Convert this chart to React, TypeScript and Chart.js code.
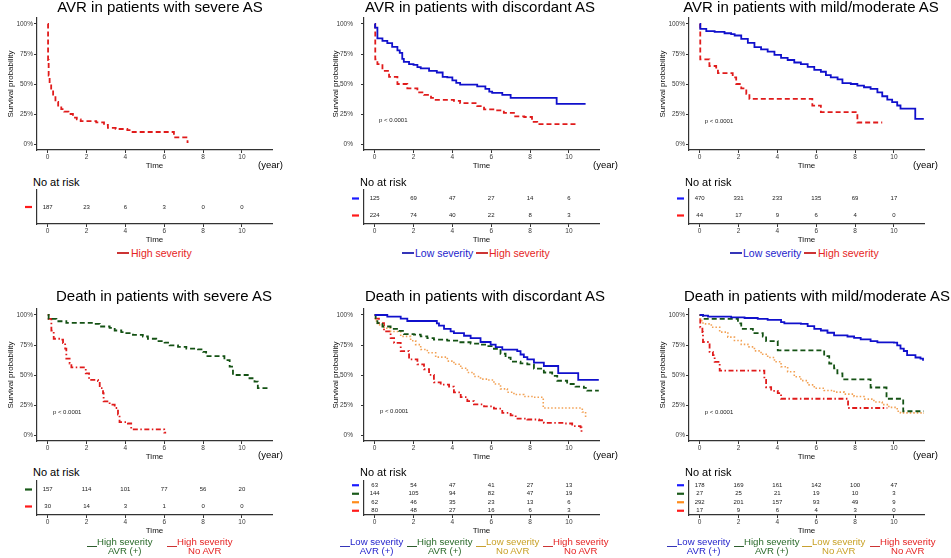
import React, { useEffect, useRef } from "react";
import { Chart, registerables } from "chart.js";
Chart.register(...registerables);

const FONT = '"Liberation Sans", Arial, Helvetica, sans-serif';
Chart.defaults.font.family = FONT;

// ---------------- data ----------------
const timeTicks = [0, 2, 4, 6, 8, 10];
const survTicks = [0, 25, 50, 75, 100];

// Panel 1: AVR in patients with severe AS
const p1HighT = [0, 0.02, 0.05, 0.1, 0.18, 0.28, 0.4, 0.54, 0.7, 0.85, 1.07, 1.3, 1.5, 1.7, 2.5, 2.9, 3.1, 3.5, 4.1, 4.3, 6.5, 7.2, 7.25];
const p1HighS = [100, 70, 57, 50, 45, 40, 35, 32, 29, 27, 25, 22, 20.5, 19, 18, 16, 13.5, 12.5, 11.5, 10, 5.5, 1.5, 1.5];

// Panel 2: AVR in patients with discordant AS
const p2LowT = [0, 0.02, 0.14, 0.4, 0.65, 0.9, 1.17, 1.29, 1.42, 1.5, 1.77, 2.0, 2.2, 2.37, 2.8, 3.2, 3.5, 3.74, 4.0, 4.2, 4.4, 5.28, 5.45, 5.7, 5.9, 6.05, 6.57, 7.0, 9.37, 10.86];
const p2LowS = [100, 97, 88, 86, 84, 81, 78, 76, 71, 68.4, 66.5, 66, 64, 63, 61, 59.6, 56, 55.5, 53, 51, 49.5, 48, 48, 46, 43.7, 42.6, 41, 38.5, 33.5, 33.5];
const p2HighT = [0, 0.03, 0.14, 0.4, 0.74, 1.17, 1.68, 2.2, 2.54, 2.9, 3.14, 4.08, 4.4, 5.28, 5.63, 6.23, 6.65, 7.17, 7.7, 8.1, 8.37, 10.43];
const p2HighS = [100, 70.6, 66.5, 61, 56, 50, 46.4, 43, 41, 38.5, 36.8, 36, 34, 31.6, 28.8, 28, 26, 23, 22.5, 18.4, 16.5, 16.5];

// Panel 3: AVR in patients with mild/moderate AS
const p3LowT = [0, 0.03, 0.34, 0.77, 1.28, 1.62, 1.8, 2.14, 2.48, 2.82, 3.16, 3.5, 3.85, 4.19, 4.53, 4.87, 5.21, 5.56, 5.9, 6.24, 6.5, 6.75, 7.1, 7.35, 7.78, 8.12, 8.46, 8.8, 9.15, 9.4, 9.66, 9.91, 10.17, 10.34, 11.1, 11.54];
const p3LowS = [100, 96, 94, 93.4, 92.3, 91.5, 90.4, 87.6, 84.3, 80.8, 78.8, 76.9, 74.2, 71.7, 70, 67.9, 66.5, 64.3, 61.8, 60.2, 57.4, 55.5, 53.8, 50.8, 50, 48.6, 47.3, 45.9, 43.1, 39.8, 37, 34.9, 32.1, 29.4, 21, 21];
const p3HighT = [0, 0.03, 0.5, 0.85, 0.94, 1.7, 1.88, 2.14, 2.4, 2.56, 5.8, 6.24, 8.12, 9.4];
const p3HighS = [100, 70.6, 65, 63.7, 59, 55.5, 50, 46.4, 41.8, 37.6, 32, 26.6, 17.9, 17.9];

// Panel 4: Death in patients with severe AS
const p4HsAvrT = [0, 0.05, 0.45, 0.96, 2.42, 2.68, 3.19, 3.45, 3.79, 4.05, 4.39, 4.9, 5.16, 5.59, 6.02, 6.28, 6.71, 7.14, 7.74, 8.0, 8.16, 9.1, 9.37, 9.54, 10.39, 10.65, 10.82, 11.42];
const p4HsAvrS = [100, 96.7, 94.8, 93.4, 92.6, 90.4, 89.3, 87.1, 85.7, 84.9, 83.5, 82.1, 80.2, 78.3, 76.9, 74.7, 73.4, 72, 71.4, 69.2, 65.7, 62.4, 56.9, 50, 47.3, 44.5, 39, 39];
const p4HsNoT = [0, 0.05, 0.19, 0.31, 0.7, 0.79, 0.9, 0.96, 1.13, 1.22, 1.96, 2.13, 2.59, 2.68, 2.85, 2.88, 3.19, 3.45, 3.62, 3.7, 4.13, 4.3, 6.0, 6.1];
const p4HsNoS = [100, 96.7, 87, 80.2, 79.4, 76.6, 72, 63.7, 59.6, 56.3, 51.4, 45.9, 45, 39, 34.9, 28, 25.3, 22.5, 17, 10.7, 9.6, 4.7, 1.9, 1.9];

// Panel 5: Death in patients with discordant AS
const p5LsAvrT = [0, 0.65, 1.34, 1.68, 3.2, 3.31, 3.57, 3.91, 4.08, 4.6, 4.94, 5.45, 5.97, 6.23, 6.57, 7.34, 7.51, 7.68, 7.86, 8.2, 8.71, 9.45, 10.48, 11.54];
const p5LsAvrS = [100, 98.6, 97, 95, 93, 91.2, 88.5, 86.3, 84.9, 82.7, 80.8, 77.5, 75.3, 73.2, 71.2, 69.9, 67.1, 64.9, 63, 60.3, 57.5, 51.5, 46, 46];
const p5HsAvrT = [0, 0.05, 0.14, 0.4, 0.82, 1.25, 1.51, 2.02, 2.37, 2.71, 3.05, 3.74, 4.25, 4.94, 5.45, 5.8, 6.14, 6.48, 6.74, 7.0, 7.51, 7.86, 8.2, 8.71, 9.14, 9.4, 9.91, 10.34, 10.77, 10.94, 11.54];
const p5HsAvrS = [100, 96, 93.2, 90.4, 88.5, 86.8, 84.1, 83.6, 82.2, 80.8, 79.5, 78.6, 77.3, 76.2, 75.3, 74, 71.8, 67.7, 64.4, 61.1, 59.7, 58.9, 55.3, 52.1, 49.3, 45.2, 42.5, 40.3, 39.2, 37, 37];
const p5LsNoT = [0, 0.05, 0.14, 0.48, 0.82, 1.34, 1.85, 2.11, 2.37, 2.71, 3.14, 3.74, 4.08, 4.43, 4.77, 5.11, 5.45, 5.8, 6.14, 6.48, 6.83, 7.17, 7.68, 8.2, 8.68, 10.69, 10.86];
const p5LsNoS = [100, 95, 91.8, 89, 86.3, 82.2, 78.6, 75.3, 71.2, 68.5, 64.9, 61.6, 58.9, 55.6, 52.1, 48.8, 46.6, 45.8, 42.5, 38.4, 35.6, 33.7, 32.1, 31.5, 22.5, 19.2, 15.1];
const p5HsNoT = [0, 0.05, 0.22, 0.48, 0.82, 1.0, 1.34, 1.77, 2.2, 2.54, 2.8, 3.05, 3.4, 3.83, 4.08, 4.43, 4.77, 5.11, 5.63, 6.14, 6.57, 7.0, 7.26, 7.86, 8.46, 8.71, 9.74, 10.17, 10.6, 10.65];
const p5HsNoS = [100, 97, 93.2, 86.3, 80.8, 76.7, 69.9, 63, 58.9, 54.8, 50.1, 43.8, 41.9, 40.3, 35.6, 31.5, 28.2, 25.5, 23.8, 21.9, 18.4, 16.4, 13.7, 12.9, 12.3, 10.1, 9.6, 7.4, 6.3, 1.9];

// Panel 6: Death in patients with mild/moderate AS
const p6LsAvrT = [0, 0.17, 0.43, 1.62, 2.31, 2.99, 3.5, 4.19, 4.36, 5.21, 5.56, 5.9, 6.24, 6.58, 6.92, 7.61, 7.95, 8.29, 8.8, 9.15, 10.0, 10.17, 10.34, 10.51, 10.68, 11.11, 11.37, 11.5];
const p6LsAvrS = [100, 99.4, 98.6, 98.1, 97.5, 96.7, 95.9, 94, 93.1, 92.6, 90.7, 88.5, 87.1, 85.2, 83, 82.1, 81, 79.7, 78.3, 77.2, 76.9, 74.7, 72, 70, 66.5, 64.6, 63.7, 61.8];
const p6HsAvrT = [0, 0.17, 1.97, 2.14, 2.74, 3.25, 3.42, 4.02, 6.41, 6.67, 6.92, 7.09, 7.35, 8.8, 9.62, 10.48, 11.54];
const p6HsAvrS = [100, 96.7, 93.1, 88.5, 84.9, 82.1, 78.3, 70.6, 65.7, 59.6, 55.5, 51.4, 46.4, 39.6, 30.2, 19.8, 19.8];
const p6LsNoT = [0, 0.03, 0.17, 0.6, 1.03, 1.45, 1.79, 2.14, 2.48, 2.82, 3.16, 3.5, 3.85, 4.19, 4.53, 4.87, 5.21, 5.56, 5.9, 6.41, 6.92, 7.44, 7.95, 8.46, 8.97, 9.4, 9.74, 10.17, 10.34, 11.54];
const p6LsNoS = [100, 95.3, 92.6, 89.8, 85.7, 81.6, 78.8, 75.5, 73.4, 70.1, 67.3, 64.6, 61, 56.9, 52.7, 48.6, 45.3, 41.8, 39, 37.1, 35.7, 34.1, 32.1, 29.9, 27.5, 25.3, 23, 19.8, 18.4, 17.9];
const p6HsNoT = [0, 0.03, 0.14, 0.17, 0.51, 0.68, 0.77, 1.03, 3.33, 3.42, 3.68, 4.02, 4.19, 7.64, 9.66];
const p6HsNoS = [100, 89.8, 85.7, 77.5, 69.2, 66.5, 61, 53.6, 45.9, 39.8, 36.8, 34.9, 30.2, 22.5, 22.5];

// Numbers at risk (at times 0,2,4,6,8,10)
const risk1High = [187, 23, 6, 3, 0, 0];
const risk2Low = [125, 69, 47, 27, 14, 6];
const risk2High = [224, 74, 40, 22, 8, 3];
const risk3Low = [470, 331, 233, 135, 69, 17];
const risk3High = [44, 17, 9, 6, 4, 0];
const risk4HsAvr = [157, 114, 101, 77, 56, 20];
const risk4HsNo = [30, 14, 3, 1, 0, 0];
const risk5LsAvr = [63, 54, 47, 41, 27, 13];
const risk5HsAvr = [144, 105, 94, 82, 47, 19];
const risk5LsNo = [62, 46, 35, 23, 13, 6];
const risk5HsNo = [80, 48, 27, 16, 6, 3];
const risk6LsAvr = [178, 169, 161, 142, 100, 47];
const risk6HsAvr = [27, 25, 21, 19, 10, 3];
const risk6LsNo = [292, 201, 157, 93, 49, 9];
const risk6HsNo = [17, 9, 6, 4, 3, 0];

// ---------------- styles ----------------
const AXIS = "#333333";
const BLUE = "#1010cc";
const GREEN = "#145214";
const ORANGE = "#f2a154";
const RED = "#e01b1b";
const S_BLUE = { color: BLUE, dash: [], width: 1.8 };
const S_GREEN = { color: GREEN, dash: [5, 3], width: 1.8 };
const S_ORANGE = { color: ORANGE, dash: [1.5, 2], width: 1.6 };
const S_RED_DASH = { color: RED, dash: [5, 3], width: 1.8 };
const S_RED_DD = { color: RED, dash: [1.5, 2.5, 5, 2.5], width: 1.8 };
const M_BLUE = "#1a1aff";
const M_GREEN = "#1a5a1a";
const M_ORANGE = "#ff8c1a";
const M_RED = "#ff1a1a";

const curve = (t: number[], s: number[], st: any) => ({ t, s, ...st });

const KM_W = 316;
const KM_H = 172;
const RISK_TOP = 188;
const RISK_H = 58;

const panels = [
  { L: 0, top: 0, yW: 37, padR: 44, tickPad: 1, yTitlePad: 6, pval: null,
    curves: [curve(p1HighT, p1HighS, S_RED_DASH)],
    risk: [{ counts: risk1High, color: M_RED }] },
  { L: 320, top: 0, yW: 44, padR: 37, tickPad: 8, yTitlePad: 10.7, pval: { x: 0.22, y: 19.8 },
    curves: [curve(p2LowT, p2LowS, S_BLUE), curve(p2HighT, p2HighS, S_RED_DASH)],
    risk: [{ counts: risk2Low, color: M_BLUE }, { counts: risk2High, color: M_RED }] },
  { L: 635, top: 0, yW: 54, padR: 27, tickPad: 1, yTitlePad: 22.7, pval: { x: 0.26, y: 19 },
    curves: [curve(p3LowT, p3LowS, S_BLUE), curve(p3HighT, p3HighS, S_RED_DASH)],
    risk: [{ counts: risk3Low, color: M_BLUE }, { counts: risk3High, color: M_RED }] },
  { L: 0, top: 291, yW: 37, padR: 44, tickPad: 1, yTitlePad: 6, pval: { x: 0.27, y: 19 },
    curves: [curve(p4HsAvrT, p4HsAvrS, S_GREEN), curve(p4HsNoT, p4HsNoS, S_RED_DD)],
    risk: [{ counts: risk4HsAvr, color: M_GREEN }, { counts: risk4HsNo, color: M_RED }] },
  { L: 320, top: 291, yW: 44, padR: 37, tickPad: 8, yTitlePad: 10.7, pval: { x: 0.27, y: 19.7 },
    curves: [curve(p5LsAvrT, p5LsAvrS, S_BLUE), curve(p5HsAvrT, p5HsAvrS, S_GREEN), curve(p5LsNoT, p5LsNoS, S_ORANGE), curve(p5HsNoT, p5HsNoS, S_RED_DD)],
    risk: [{ counts: risk5LsAvr, color: M_BLUE }, { counts: risk5HsAvr, color: M_GREEN }, { counts: risk5LsNo, color: M_ORANGE }, { counts: risk5HsNo, color: M_RED }] },
  { L: 635, top: 291, yW: 54, padR: 27, tickPad: 1, yTitlePad: 22.7, pval: { x: 0.26, y: 19 },
    curves: [curve(p6LsAvrT, p6LsAvrS, S_BLUE), curve(p6HsAvrT, p6HsAvrS, S_GREEN), curve(p6LsNoT, p6LsNoS, S_ORANGE), curve(p6HsNoT, p6HsNoS, S_RED_DD)],
    risk: [{ counts: risk6LsAvr, color: M_BLUE }, { counts: risk6HsAvr, color: M_GREEN }, { counts: risk6LsNo, color: M_ORANGE }, { counts: risk6HsNo, color: M_RED }] },
];

// ---------------- plugins ----------------
const pvalPlugin = {
  id: "pval",
  afterDatasetsDraw(chart: any, _a: any, opts: any) {
    if (!opts || !opts.text) return;
    const ctx = chart.ctx;
    const x = chart.scales.x.getPixelForValue(opts.x);
    const y = chart.scales.y.getPixelForValue(opts.y);
    ctx.save();
    ctx.font = `6px ${FONT}`;
    ctx.fillStyle = "#222";
    ctx.textAlign = "left";
    ctx.textBaseline = "middle";
    ctx.fillText(opts.text, x, y);
    ctx.restore();
  },
};

const riskPlugin = {
  id: "risktext",
  afterDatasetsDraw(chart: any) {
    const ctx = chart.ctx;
    const area = chart.chartArea;
    ctx.save();
    chart.data.datasets.forEach((ds: any, di: number) => {
      const meta = chart.getDatasetMeta(di);
      ctx.font = `6px ${FONT}`;
      ctx.fillStyle = "#222";
      ctx.textAlign = "center";
      ctx.textBaseline = "middle";
      meta.data.forEach((pt: any, i: number) => ctx.fillText(String(ds.counts[i]), pt.x, pt.y));
      const y = meta.data[0].y;
      ctx.strokeStyle = ds.markColor;
      ctx.lineWidth = 2.2;
      ctx.beginPath();
      ctx.moveTo(area.left - 12, y);
      ctx.lineTo(area.left - 5, y);
      ctx.stroke();
    });
    ctx.restore();
  },
};

const gridOpts = { display: true, drawOnChartArea: false, drawTicks: true, tickLength: 3, color: AXIS, lineWidth: 1 };
const borderOpts = { display: true, color: AXIS, width: 1.2 };

function xScale() {
  return {
    type: "linear",
    min: -0.55,
    max: 11.55,
    afterBuildTicks: (ax: any) => { ax.ticks = timeTicks.map((v) => ({ value: v })); },
    afterFit: (ax: any) => { ax.height = 22; },
    grid: gridOpts,
    border: borderOpts,
    ticks: { font: { size: 6.5 }, color: "#3a3a3a", padding: 0, maxRotation: 0, minRotation: 0, autoSkip: false },
    title: { display: true, text: "Time", color: "#111", font: { size: 8 }, padding: { top: 0, bottom: 1.5 } },
  };
}

function KM({ p }: { p: any }) {
  const ref = useRef<HTMLCanvasElement>(null);
  useEffect(() => {
    const chart = new Chart(ref.current as HTMLCanvasElement, {
      type: "line",
      data: {
        datasets: p.curves.map((c: any) => ({
          data: c.t.map((t: number, i: number) => ({ x: t, y: c.s[i] })),
          borderColor: c.color,
          borderDash: c.dash,
          borderWidth: c.width,
          stepped: true,
          pointRadius: 0,
          pointHoverRadius: 0,
          fill: false,
          borderCapStyle: "butt",
        })),
      },
      options: {
        animation: false,
        responsive: false,
        maintainAspectRatio: false,
        events: [],
        layout: { padding: { top: 18, right: p.padR, bottom: 0, left: 0 } },
        plugins: {
          legend: { display: false },
          tooltip: { enabled: false },
          pval: p.pval ? { text: "p < 0.0001", x: p.pval.x, y: p.pval.y } : { text: "" },
        },
        scales: {
          x: xScale(),
          y: {
            type: "linear",
            min: -5,
            max: 105,
            afterBuildTicks: (ax: any) => { ax.ticks = survTicks.map((v) => ({ value: v })); },
            afterFit: (ax: any) => { ax.width = p.yW; },
            grid: gridOpts,
            border: borderOpts,
            ticks: { font: { size: 6.5 }, color: "#3a3a3a", padding: p.tickPad, callback: (v: any) => v + "%" },
            title: { display: true, text: "Survival probability", color: "#111", font: { size: 8 }, padding: { top: p.yTitlePad, bottom: 0 } },
          },
        },
      } as any,
      plugins: [pvalPlugin as any],
    });
    return () => chart.destroy();
  }, []);
  return <canvas ref={ref} width={KM_W} height={KM_H} style={{ position: "absolute", left: p.L, top: p.top, width: KM_W, height: KM_H }} />;
}

function Risk({ p }: { p: any }) {
  const ref = useRef<HTMLCanvasElement>(null);
  useEffect(() => {
    const n = p.risk.length;
    const chart = new Chart(ref.current as HTMLCanvasElement, {
      type: "scatter",
      data: {
        datasets: p.risk.map((r: any, ri: number) => ({
          data: timeTicks.map((t) => ({ x: t, y: ri })),
          counts: r.counts,
          markColor: r.color,
          pointRadius: 0,
          pointHoverRadius: 0,
          showLine: false,
        })),
      },
      options: {
        animation: false,
        responsive: false,
        maintainAspectRatio: false,
        events: [],
        layout: { padding: { top: 2, right: p.padR, bottom: 0, left: 0 } },
        plugins: { legend: { display: false }, tooltip: { enabled: false } },
        scales: {
          x: xScale(),
          y: {
            type: "linear",
            min: -0.5,
            max: n - 0.5,
            reverse: true,
            afterFit: (ax: any) => { ax.width = p.yW; },
            grid: { display: false },
            border: borderOpts,
            ticks: { display: false },
          },
        },
      } as any,
      plugins: [riskPlugin as any],
    });
    return () => chart.destroy();
  }, []);
  return <canvas ref={ref} width={KM_W} height={RISK_H} style={{ position: "absolute", left: p.L, top: p.top + RISK_TOP, width: KM_W, height: RISK_H }} />;
}

// ---------------- text ----------------
function Txt({ x, yc, size, color = "#000", center = false, children }: any) {
  return (
    <div style={{ position: "absolute", left: x, top: yc - size / 2, fontSize: size, lineHeight: `${size}px`, color, whiteSpace: "nowrap", transform: center ? "translateX(-50%)" : undefined }}>
      {children}
    </div>
  );
}

const titles = [
  { text: "AVR in patients with severe AS", x: 160, yc: 6.9 },
  { text: "AVR in patients with discordant AS", x: 480, yc: 6.9 },
  { text: "AVR in patients with mild/moderate AS", x: 811, yc: 6.9 },
  { text: "Death in patients with severe AS", x: 164, yc: 295.2 },
  { text: "Death in patients with discordant AS", x: 485, yc: 295.2 },
  { text: "Death in patients with mild/moderate AS", x: 817, yc: 295.2 },
];
const yearLabels = [
  { x: 258, yc: 165 }, { x: 593, yc: 165 }, { x: 913, yc: 165 },
  { x: 258, yc: 455 }, { x: 593, yc: 455 }, { x: 913, yc: 455 },
];
const noRisk = [
  { x: 33, yc: 182 }, { x: 360, yc: 182 }, { x: 685, yc: 182 },
  { x: 33, yc: 472 }, { x: 360, yc: 472 }, { x: 685, yc: 472 },
];

const L_BLUE = { line: "#3535b8", text: "#2424cc" };
const L_RED = { line: "#cc3434", text: "#e52424" };
const L_GREEN = { line: "#2e5e2e", text: "#2a6a2a" };
const L_GOLD = { line: "#c8a030", text: "#c9a227" };

const topLegend = [
  { lx: 117, tx: 131, text: "High severity", c: L_RED },
  { lx: 402, tx: 415, text: "Low severity", c: L_BLUE },
  { lx: 476, tx: 489, text: "High severity", c: L_RED },
  { lx: 730, tx: 743, text: "Low severity", c: L_BLUE },
  { lx: 804, tx: 818, text: "High severity", c: L_RED },
];
const botLegend = [
  { lx: 87, tx: 97, text: ["High severity", "AVR (+)"], c: L_GREEN },
  { lx: 167, tx: 177, text: ["High severity", "No AVR"], c: L_RED },
  { lx: 340, tx: 350, text: ["Low severity", "AVR (+)"], c: L_BLUE },
  { lx: 407, tx: 417, text: ["High severity", "AVR (+)"], c: L_GREEN },
  { lx: 476, tx: 486, text: ["Low severity", "No AVR"], c: L_GOLD },
  { lx: 543, tx: 553, text: ["High severity", "No AVR"], c: L_RED },
  { lx: 667, tx: 677, text: ["Low severity", "AVR (+)"], c: L_BLUE },
  { lx: 734, tx: 744, text: ["High severity", "AVR (+)"], c: L_GREEN },
  { lx: 802, tx: 812, text: ["Low severity", "No AVR"], c: L_GOLD },
  { lx: 870, tx: 880, text: ["High severity", "No AVR"], c: L_RED },
];

export default function App() {
  return (
    <div style={{ position: "absolute", left: 0, top: 0, width: 951, height: 558, background: "#fff", overflow: "hidden", fontFamily: FONT }}>
      {panels.map((p, i) => (
        <React.Fragment key={i}>
          <KM p={p} />
          <Risk p={p} />
        </React.Fragment>
      ))}
      {titles.map((t, i) => (
        <Txt key={"t" + i} x={t.x} yc={t.yc} size={15} center>{t.text}</Txt>
      ))}
      {yearLabels.map((t, i) => (
        <Txt key={"y" + i} x={t.x} yc={t.yc} size={9.5}>(year)</Txt>
      ))}
      {noRisk.map((t, i) => (
        <Txt key={"n" + i} x={t.x} yc={t.yc} size={11}>No at risk</Txt>
      ))}
      {topLegend.map((l, i) => (
        <React.Fragment key={"tl" + i}>
          <div style={{ position: "absolute", left: l.lx, top: 251.7, width: 12, height: 2, background: l.c.line }} />
          <Txt x={l.tx} yc={253} size={10.5} color={l.c.text}>{l.text}</Txt>
        </React.Fragment>
      ))}
      {botLegend.map((l, i) => (
        <React.Fragment key={"bl" + i}>
          <div style={{ position: "absolute", left: l.lx, top: 545.5, width: 10, height: 1.8, background: l.c.line }} />
          <div style={{ position: "absolute", left: l.tx, top: 541.7 - 4.8, fontSize: 9.6, lineHeight: "9.6px", color: l.c.text, whiteSpace: "nowrap", textAlign: "center" }}>
            {l.text[0]}
            <br />
            {l.text[1]}
          </div>
        </React.Fragment>
      ))}
    </div>
  );
}
